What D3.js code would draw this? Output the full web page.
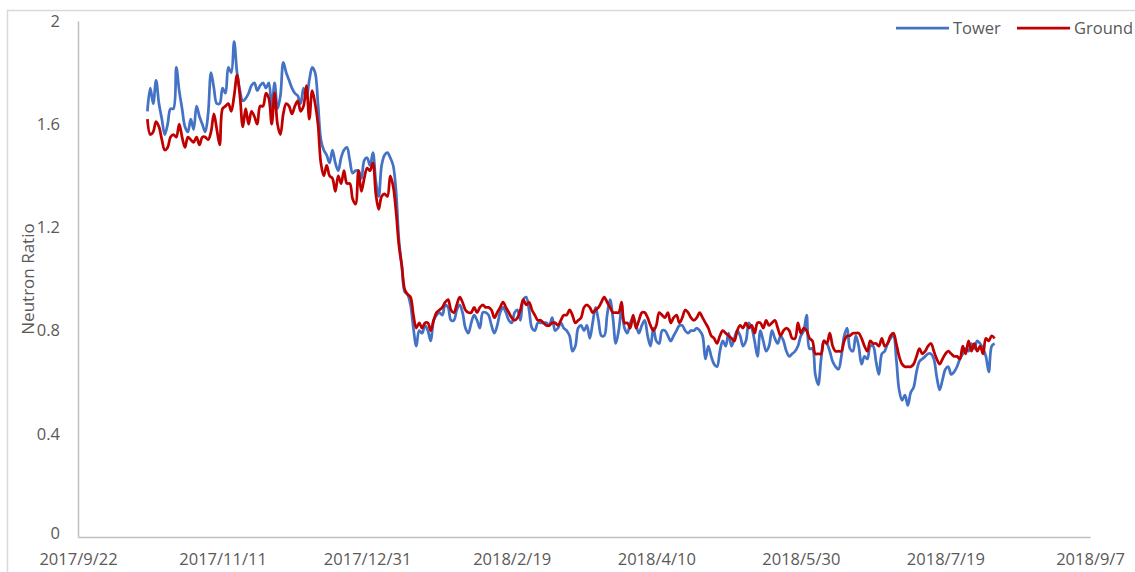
<!DOCTYPE html>
<html>
<head>
<meta charset="utf-8">
<script src="https://cdn.jsdelivr.net/npm/d3@7"></script>
<style>
	body { margin: 0; background: #fff; }
	text { font-family: 'Open Sans', sans-serif; fill: #595959; }
</style>
</head>
<body>
<script>
// daily readings, first one on 2017/10/16
var startDate = '2017-10-16';

var tower = [
	1.65, 1.74, 1.68, 1.77, 1.68, 1.62, 1.56, 1.60, 1.66, 1.66,
	1.82, 1.73, 1.66, 1.59, 1.57, 1.62, 1.58, 1.67, 1.63, 1.60,
	1.57, 1.64, 1.80, 1.74, 1.68, 1.68, 1.74, 1.72, 1.82, 1.80,
	1.92, 1.80, 1.73, 1.69, 1.70, 1.72, 1.75, 1.76, 1.73, 1.75,
	1.76, 1.74, 1.76, 1.66, 1.76, 1.66, 1.71, 1.84, 1.80, 1.77,
	1.74, 1.72, 1.71, 1.68, 1.74, 1.70, 1.77, 1.82, 1.80, 1.68,
	1.54, 1.50, 1.48, 1.45, 1.50, 1.45, 1.42, 1.47, 1.50, 1.51,
	1.46, 1.41, 1.42, 1.42, 1.39, 1.46, 1.47, 1.44, 1.49, 1.38,
	1.32, 1.44, 1.48, 1.49, 1.47, 1.44, 1.34, 1.15, 1.05, 0.95,
	0.94, 0.90, 0.81, 0.74, 0.80, 0.79, 0.82, 0.80, 0.76, 0.84,
	0.86, 0.87, 0.86, 0.90, 0.89, 0.84, 0.84, 0.88, 0.90, 0.87,
	0.81, 0.79, 0.83, 0.86, 0.84, 0.81, 0.87, 0.87, 0.86, 0.82,
	0.79, 0.82, 0.87, 0.89, 0.87, 0.84, 0.83, 0.87, 0.88, 0.84,
	0.92, 0.93, 0.88, 0.81, 0.80, 0.83, 0.83, 0.83, 0.83, 0.82,
	0.85, 0.80, 0.81, 0.83, 0.81, 0.80, 0.78, 0.72, 0.74, 0.81,
	0.82, 0.80, 0.82, 0.77, 0.83, 0.89, 0.84, 0.78, 0.78, 0.86,
	0.92, 0.85, 0.75, 0.80, 0.88, 0.81, 0.79, 0.83, 0.85, 0.82,
	0.79, 0.82, 0.84, 0.78, 0.74, 0.81, 0.76, 0.75, 0.80, 0.80,
	0.78, 0.76, 0.78, 0.80, 0.82, 0.82, 0.80, 0.79, 0.80, 0.80,
	0.81, 0.80, 0.78, 0.69, 0.74, 0.70, 0.67, 0.66, 0.72, 0.76,
	0.74, 0.79, 0.74, 0.77, 0.80, 0.78, 0.74, 0.76, 0.83, 0.81,
	0.76, 0.70, 0.80, 0.76, 0.72, 0.74, 0.80, 0.77, 0.75, 0.78,
	0.76, 0.72, 0.70, 0.71, 0.72, 0.74, 0.78, 0.80, 0.86, 0.73,
	0.73, 0.63, 0.59, 0.69, 0.76, 0.75, 0.72, 0.68, 0.66, 0.65,
	0.70, 0.78, 0.81, 0.73, 0.72, 0.78, 0.74, 0.67, 0.70, 0.69,
	0.74, 0.74, 0.68, 0.63, 0.71, 0.72, 0.75, 0.77, 0.78, 0.69,
	0.57, 0.53, 0.55, 0.51, 0.56, 0.58, 0.64, 0.68, 0.69, 0.70,
	0.71, 0.71, 0.69, 0.62, 0.57, 0.61, 0.65, 0.66, 0.63, 0.64,
	0.66, 0.69, 0.71, 0.73, 0.72, 0.75, 0.73, 0.76, 0.75, 0.73,
	0.70, 0.64, 0.74, 0.75
];

var ground = [
	1.62, 1.56, 1.57, 1.61, 1.59, 1.54, 1.50, 1.51, 1.55, 1.56,
	1.55, 1.60, 1.55, 1.51, 1.55, 1.54, 1.53, 1.55, 1.52, 1.55,
	1.55, 1.54, 1.57, 1.64, 1.58, 1.52, 1.66, 1.67, 1.68, 1.65,
	1.71, 1.79, 1.71, 1.59, 1.66, 1.60, 1.65, 1.63, 1.60, 1.67,
	1.67, 1.72, 1.70, 1.60, 1.72, 1.60, 1.56, 1.64, 1.68, 1.67,
	1.64, 1.67, 1.69, 1.65, 1.67, 1.75, 1.62, 1.73, 1.68, 1.60,
	1.45, 1.40, 1.44, 1.40, 1.39, 1.34, 1.40, 1.37, 1.42, 1.37,
	1.37, 1.31, 1.29, 1.42, 1.34, 1.39, 1.43, 1.42, 1.45, 1.33,
	1.27, 1.32, 1.33, 1.32, 1.40, 1.36, 1.26, 1.13, 1.05, 0.96,
	0.94, 0.93, 0.86, 0.81, 0.83, 0.81, 0.83, 0.83, 0.80, 0.84,
	0.87, 0.88, 0.89, 0.91, 0.92, 0.88, 0.87, 0.90, 0.93, 0.91,
	0.88, 0.87, 0.87, 0.89, 0.87, 0.89, 0.90, 0.89, 0.89, 0.88,
	0.85, 0.87, 0.89, 0.91, 0.89, 0.87, 0.85, 0.84, 0.85, 0.88,
	0.92, 0.90, 0.91, 0.88, 0.86, 0.84, 0.84, 0.83, 0.82, 0.82,
	0.83, 0.83, 0.82, 0.84, 0.86, 0.86, 0.88, 0.86, 0.83, 0.84,
	0.85, 0.89, 0.90, 0.89, 0.87, 0.88, 0.89, 0.91, 0.93, 0.91,
	0.89, 0.87, 0.87, 0.87, 0.91, 0.83, 0.83, 0.81, 0.86, 0.81,
	0.84, 0.87, 0.87, 0.85, 0.82, 0.80, 0.82, 0.87, 0.86, 0.85,
	0.87, 0.83, 0.85, 0.86, 0.83, 0.85, 0.88, 0.87, 0.85, 0.84,
	0.85, 0.87, 0.85, 0.83, 0.81, 0.78, 0.77, 0.75, 0.78, 0.80,
	0.79, 0.78, 0.77, 0.76, 0.80, 0.82, 0.81, 0.83, 0.81, 0.82,
	0.79, 0.83, 0.83, 0.81, 0.84, 0.82, 0.83, 0.84, 0.81, 0.78,
	0.80, 0.81, 0.80, 0.77, 0.77, 0.83, 0.79, 0.81, 0.80, 0.77,
	0.76, 0.71, 0.71, 0.71, 0.76, 0.75, 0.79, 0.74, 0.72, 0.72,
	0.72, 0.76, 0.78, 0.78, 0.79, 0.79, 0.79, 0.77, 0.74, 0.72,
	0.76, 0.75, 0.75, 0.74, 0.77, 0.74, 0.75, 0.78, 0.79, 0.75,
	0.70, 0.67, 0.66, 0.66, 0.66, 0.67, 0.70, 0.73, 0.71, 0.72,
	0.74, 0.75, 0.72, 0.69, 0.67, 0.69, 0.71, 0.72, 0.71, 0.70,
	0.70, 0.69, 0.74, 0.71, 0.76, 0.72, 0.75, 0.72, 0.74, 0.71,
	0.77, 0.76, 0.78, 0.77
];

var xTickDates = [ '2017-09-22', '2017-11-11', '2017-12-31', '2018-02-19', '2018-04-10', '2018-05-30', '2018-07-19', '2018-09-07' ];
var yTicks = [ 0, 0.4, 0.8, 1.2, 1.6, 2 ];

var seriesNames = [ 'Tower', 'Ground' ];
var seriesColors = [ '#4472c4', '#c00000' ];

var width = 1135;
var height = 572;

var plot = { left: 78, right: 1090, top: 21, bottom: 537 };

var parse = d3.utcParse( '%Y-%m-%d' );
var fmt = function ( d ) {
	return d.getUTCFullYear() + '/' + ( d.getUTCMonth() + 1 ) + '/' + d.getUTCDate();
};

var svg = d3.select( 'body' ).append( 'svg' )
	.attr( 'width', width )
	.attr( 'height', height );

// chart frame
svg.append( 'rect' )
	.attr( 'x', 7.5 ).attr( 'y', 10.5 )
	.attr( 'width', width + 20 ).attr( 'height', height + 20 )
	.attr( 'fill', 'none' )
	.attr( 'stroke', '#d9d9d9' )
	.attr( 'stroke-width', 1.5 );

var x = d3.scaleUtc()
	.domain( [ parse( xTickDates[0] ), parse( xTickDates[ xTickDates.length - 1 ] ) ] )
	.range( [ plot.left, plot.right ] );

var y = d3.scaleLinear()
	.domain( [ 0, 2 ] )
	.range( [ plot.bottom, plot.top ] );

var xAxis = d3.axisBottom( x )
	.tickValues( xTickDates.map( parse ) )
	.tickFormat( fmt )
	.tickSize( 0 )
	.tickPadding( 16 );

var yAxis = d3.axisLeft( y )
	.tickValues( yTicks )
	.tickFormat( d3.format( '' ) )
	.tickSize( 0 )
	.tickPadding( 18 );

var gx = svg.append( 'g' )
	.attr( 'transform', 'translate(0,' + plot.bottom + ')' )
	.call( xAxis );
gx.select( '.domain' ).attr( 'stroke', '#bfbfbf' ).attr( 'stroke-width', 1.5 );
gx.selectAll( 'text' ).attr( 'font-size', 16.5 ).attr( 'font-family', null ).attr( 'fill', '#595959' );

var gy = svg.append( 'g' )
	.attr( 'transform', 'translate(' + plot.left + ',0)' )
	.call( yAxis );
gy.select( '.domain' ).attr( 'stroke', '#bfbfbf' ).attr( 'stroke-width', 1.5 );
gy.selectAll( 'text' ).attr( 'font-size', 16.5 ).attr( 'font-family', null ).attr( 'fill', '#595959' );
// the 0 label sits just above the first date label, as in the original
gy.selectAll( 'text' ).filter( function ( d ) { return d === 0; } ).attr( 'dy', '0.1em' );

svg.append( 'text' )
	.attr( 'transform', 'translate(34,' + ( ( plot.top + plot.bottom ) / 2 ) + ') rotate(-90)' )
	.attr( 'text-anchor', 'middle' )
	.attr( 'font-size', 17 )
	.text( 'Neutron Ratio' );

var t0 = parse( startDate );
var toPoints = function ( vals ) {
	return vals.map( function ( v, i ) {
		return { date: d3.utcDay.offset( t0, i ), value: v };
	} );
};

var line = d3.line()
	.x( function ( d ) { return x( d.date ); } )
	.y( function ( d ) { return y( d.value ); } )
	.curve( d3.curveCatmullRom );

[ tower, ground ].forEach( function ( vals, i ) {
	svg.append( 'path' )
		.datum( toPoints( vals ) )
		.attr( 'd', line )
		.attr( 'fill', 'none' )
		.attr( 'stroke', seriesColors[i] )
		.attr( 'stroke-width', 2.75 )
		.attr( 'stroke-linejoin', 'round' );
} );

// legend
var legendX = [ 896, 1017 ];
var legend = svg.append( 'g' );
seriesNames.forEach( function ( name, i ) {
	legend.append( 'line' )
		.attr( 'x1', legendX[i] ).attr( 'x2', legendX[i] + 53 )
		.attr( 'y1', 28 ).attr( 'y2', 28 )
		.attr( 'stroke', seriesColors[i] )
		.attr( 'stroke-width', 2.75 );
	legend.append( 'text' )
		.attr( 'x', legendX[i] + 57 )
		.attr( 'y', 34 )
		.attr( 'font-size', 16.5 )
		.text( name );
} );
</script>
</body>
</html>
